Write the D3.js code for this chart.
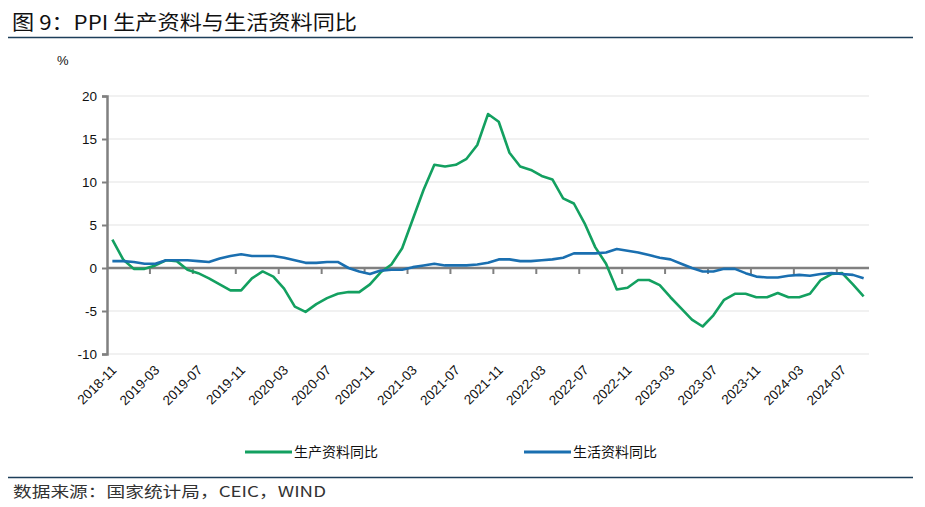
<!DOCTYPE html>
<html>
<head>
<meta charset="utf-8">
<script src="https://cdn.jsdelivr.net/npm/d3@7"></script>
<style>
  body { margin: 0; background: #fff; }
  svg { display: block; font-family: "Liberation Sans", "Noto Sans CJK SC", sans-serif; }
</style>
</head>
<body>
<svg id="chart" width="925" height="507"></svg>
<script>
'use strict';

// months 2018-11 .. 2024-09
const months = [
  '2018-11', '2018-12',
  '2019-01', '2019-02', '2019-03', '2019-04', '2019-05', '2019-06',
  '2019-07', '2019-08', '2019-09', '2019-10', '2019-11', '2019-12',
  '2020-01', '2020-02', '2020-03', '2020-04', '2020-05', '2020-06',
  '2020-07', '2020-08', '2020-09', '2020-10', '2020-11', '2020-12',
  '2021-01', '2021-02', '2021-03', '2021-04', '2021-05', '2021-06',
  '2021-07', '2021-08', '2021-09', '2021-10', '2021-11', '2021-12',
  '2022-01', '2022-02', '2022-03', '2022-04', '2022-05', '2022-06',
  '2022-07', '2022-08', '2022-09', '2022-10', '2022-11', '2022-12',
  '2023-01', '2023-02', '2023-03', '2023-04', '2023-05', '2023-06',
  '2023-07', '2023-08', '2023-09', '2023-10', '2023-11', '2023-12',
  '2024-01', '2024-02', '2024-03', '2024-04', '2024-05', '2024-06',
  '2024-07', '2024-08', '2024-09'
];

// 生产资料同比 (%)
const producerGoods = [
  3.3, 1.0,
  -0.1, -0.1, 0.3, 0.9, 0.8, -0.2, -0.6, -1.2, -1.9, -2.6, -2.6, -1.2,
  -0.4, -1.0, -2.4, -4.5, -5.1, -4.2, -3.5, -3.0, -2.8, -2.8, -1.9, -0.5,
  0.4, 2.3, 5.7, 9.1, 12.0, 11.8, 12.0, 12.7, 14.3, 17.9, 17.0, 13.4,
  11.8, 11.4, 10.7, 10.3, 8.1, 7.5, 5.2, 2.4, 0.5, -2.5, -2.3, -1.4,
  -1.4, -2.0, -3.4, -4.7, -6.0, -6.8, -5.5, -3.7, -3.0, -3.0, -3.4, -3.4,
  -2.9, -3.4, -3.4, -3.0, -1.4, -0.7, -0.6, -1.9, -3.3
];

// 生活资料同比 (%)
const consumerGoods = [
  0.8, 0.8,
  0.7, 0.5, 0.5, 0.9, 0.9, 0.9, 0.8, 0.7, 1.1, 1.4, 1.6, 1.4,
  1.4, 1.4, 1.2, 0.9, 0.6, 0.6, 0.7, 0.7, 0.0, -0.4, -0.7, -0.3,
  -0.2, -0.2, 0.1, 0.3, 0.5, 0.3, 0.3, 0.3, 0.4, 0.6, 1.0, 1.0,
  0.8, 0.8, 0.9, 1.0, 1.2, 1.7, 1.7, 1.7, 1.8, 2.2, 2.0, 1.8,
  1.5, 1.2, 1.0, 0.5, 0.0, -0.4, -0.4, -0.1, -0.1, -0.6, -1.0, -1.1,
  -1.1, -0.9, -0.8, -0.9, -0.7, -0.6, -0.7, -0.8, -1.2
];

const yTicks = [-10, -5, 0, 5, 10, 15, 20];
const seriesNames = ['生产资料同比', '生活资料同比'];
const seriesColors = ['#13a060', '#1a6fb0'];

const svg = d3.select('#chart');
const plotLeft = 107;
const plotRight = 869;
const plotTop = 96;
const plotBottom = 354;

const x = d3.scaleBand().domain(months).range([plotLeft, plotRight]).padding(0);
const y = d3.scaleLinear().domain([-10, 20]).range([plotBottom, plotTop]);

// title and rules
svg.append('text')
  .attr('x', 12)
  .attr('y', 30)
  .attr('font-family', '"Noto Sans CJK SC", sans-serif')
  .attr('font-size', 20)
  .attr('fill', '#111')
  .attr('textLength', 345)
  .attr('lengthAdjust', 'spacingAndGlyphs')
  .text('图 9：PPI 生产资料与生活资料同比');

svg.append('line')
  .attr('x1', 8).attr('x2', 913)
  .attr('y1', 37.5).attr('y2', 37.5)
  .attr('stroke', '#1d3f5a')
  .attr('stroke-width', 1.5);

svg.append('line')
  .attr('x1', 8).attr('x2', 913)
  .attr('y1', 477.5).attr('y2', 477.5)
  .attr('stroke', '#1d3f5a')
  .attr('stroke-width', 1.5);

svg.append('text')
  .attr('x', 13)
  .attr('y', 497)
  .attr('font-family', '"Noto Sans CJK SC", sans-serif')
  .attr('font-size', 15)
  .attr('fill', '#333')
  .attr('textLength', 313)
  .attr('lengthAdjust', 'spacingAndGlyphs')
  .text('数据来源：国家统计局，CEIC，WIND');

// gridlines
svg.append('g')
  .selectAll('line')
  .data(yTicks.filter(function(d) { return d !== 0; }))
  .enter()
  .append('line')
  .attr('x1', plotLeft)
  .attr('x2', plotRight)
  .attr('y1', function(d) { return y(d); })
  .attr('y2', function(d) { return y(d); })
  .attr('stroke', '#ececec')
  .attr('stroke-width', 1.5);

// y axis, plain hyphen for negatives like the source
const yAxis = svg.append('g')
  .attr('transform', 'translate(' + plotLeft + ',0)')
  .call(d3.axisLeft(y).tickValues(yTicks).tickSize(5).tickPadding(5)
    .tickFormat(function(d) { return String(d); }));
yAxis.select('.domain').attr('stroke', '#808080').attr('stroke-width', 2.5);
yAxis.selectAll('.tick line').attr('stroke', '#808080').attr('stroke-width', 2);
yAxis.selectAll('.tick text')
  .attr('font-size', 13.5)
  .attr('fill', '#111');

svg.append('text')
  .attr('x', 57)
  .attr('y', 65)
  .attr('font-size', 13)
  .attr('fill', '#111')
  .text('%');

// x axis at zero, ticks between every 4 categories
const tickMonths = months.filter(function(d, i) { return i % 4 === 0; });
const xAxisG = svg.append('g');
xAxisG.append('line')
  .attr('x1', plotLeft)
  .attr('x2', plotRight)
  .attr('y1', y(0))
  .attr('y2', y(0))
  .attr('stroke', '#808080')
  .attr('stroke-width', 2.5);
xAxisG.selectAll('line.tick')
  .data(tickMonths.slice(1))
  .enter()
  .append('line')
  .attr('class', 'tick')
  .attr('x1', function(d) { return x(d); })
  .attr('x2', function(d) { return x(d); })
  .attr('y1', y(0))
  .attr('y2', y(0) + 6)
  .attr('stroke', '#808080')
  .attr('stroke-width', 2);

// rotated month labels
svg.append('g')
  .selectAll('text')
  .data(tickMonths)
  .enter()
  .append('text')
  .attr('text-anchor', 'end')
  .attr('font-size', 13.5)
  .attr('fill', '#111')
  .attr('transform', function(d) {
    return 'translate(' + (x(d) + x.bandwidth() / 2 + 5) + ',' + 371 + ') rotate(-45)';
  })
  .text(function(d) { return d; });

// series lines
const series = [producerGoods, consumerGoods];
const line = d3.line()
  .x(function(d, i) { return x(months[i]) + x.bandwidth() / 2; })
  .y(function(d) { return y(d); });

svg.append('g')
  .selectAll('path')
  .data(series)
  .enter()
  .append('path')
  .attr('d', line)
  .attr('fill', 'none')
  .attr('stroke', function(d, i) { return seriesColors[i]; })
  .attr('stroke-width', 2.6)
  .attr('stroke-linejoin', 'round');

// legend
const legendX = [245, 524];
const legend = svg.append('g')
  .selectAll('g')
  .data(seriesNames)
  .enter()
  .append('g')
  .attr('transform', function(d, i) { return 'translate(' + legendX[i] + ',452)'; });

legend.append('line')
  .attr('x1', 0)
  .attr('x2', 47)
  .attr('stroke', function(d, i) { return seriesColors[i]; })
  .attr('stroke-width', 3);

legend.append('text')
  .attr('x', 49)
  .attr('y', 5)
  .attr('font-family', '"Noto Sans CJK SC", sans-serif')
  .attr('font-size', 14)
  .attr('fill', '#111')
  .text(function(d) { return d; });
</script>
</body>
</html>
